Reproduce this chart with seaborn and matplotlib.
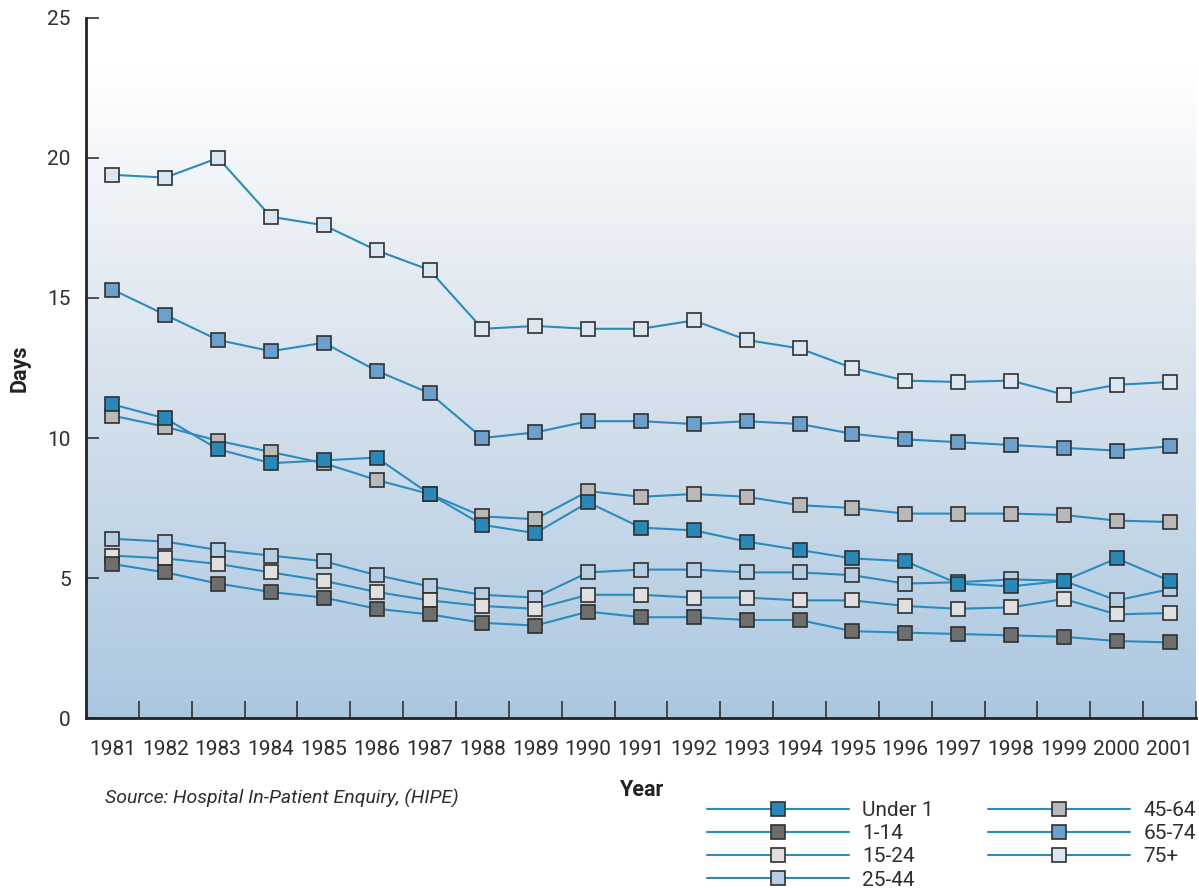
import numpy as np
import pandas as pd
import matplotlib
matplotlib.use("Agg")
import matplotlib.pyplot as plt
from matplotlib.lines import Line2D
from matplotlib.colors import LinearSegmentedColormap
import seaborn as sns

years = [str(y) for y in range(1981, 2002)]
groups = ["Under 1", "1-14", "15-24", "25-44", "45-64", "65-74", "75+"]

under_1 = [11.2, 10.7, 9.6, 9.1, 9.2, 9.3, 8.0, 6.9, 6.6, 7.7, 6.8, 6.7, 6.3, 6.0, 5.7, 5.6, 4.8, 4.7, 4.9, 5.7, 4.9]
age_1_14 = [5.5, 5.2, 4.8, 4.5, 4.3, 3.9, 3.7, 3.4, 3.3, 3.8, 3.6, 3.6, 3.5, 3.5, 3.1, 3.05, 3.0, 2.95, 2.9, 2.75, 2.7]
age_15_24 = [5.8, 5.7, 5.5, 5.2, 4.9, 4.5, 4.2, 4.0, 3.9, 4.4, 4.4, 4.3, 4.3, 4.2, 4.2, 4.0, 3.9, 3.95, 4.25, 3.7, 3.75]
age_25_44 = [6.4, 6.3, 6.0, 5.8, 5.6, 5.1, 4.7, 4.4, 4.3, 5.2, 5.3, 5.3, 5.2, 5.2, 5.1, 4.8, 4.85, 4.95, 4.9, 4.2, 4.6]
age_45_64 = [10.8, 10.4, 9.9, 9.5, 9.1, 8.5, 8.0, 7.2, 7.1, 8.1, 7.9, 8.0, 7.9, 7.6, 7.5, 7.3, 7.3, 7.3, 7.25, 7.05, 7.0]
age_65_74 = [15.3, 14.4, 13.5, 13.1, 13.4, 12.4, 11.6, 10.0, 10.2, 10.6, 10.6, 10.5, 10.6, 10.5, 10.15, 9.95, 9.85, 9.75, 9.65, 9.55, 9.7]
age_75p = [19.4, 19.3, 20.0, 17.9, 17.6, 16.7, 16.0, 13.9, 14.0, 13.9, 13.9, 14.2, 13.5, 13.2, 12.5, 12.05, 12.0, 12.05, 11.55, 11.9, 12.0]

series = [under_1, age_1_14, age_15_24, age_25_44, age_45_64, age_65_74, age_75p]
face_colors = ["#2a88b8", "#6e6e6e", "#e0e0e0", "#b7cde4", "#b9b9b9", "#6aa0cb", "#dbe6f1"]
line_color = "#2b8bbd"
edge_color = "#303030"

sns.set_theme(style="white")
plt.rcParams["font.family"] = ["Roboto", "DejaVu Sans"]
text_color = "#2e2e2e"

fig = plt.figure(figsize=(11.99, 8.88), dpi=100)
ax = fig.add_axes([86 / 1199, (888 - 718) / 888, (1196 - 86) / 1199, 700 / 888])

# gradient background (white at top to light blue at bottom)
grad = np.linspace(0, 1, 256).reshape(-1, 1)
cmap = LinearSegmentedColormap.from_list(
    "bg", [(0.0, "#ffffff"), (0.07, "#ffffff"), (0.4, "#e2e9f1"), (0.7, "#c7d8e8"), (1.0, "#abc7e0")])
ax.imshow(grad, aspect="auto", cmap=cmap, extent=[-0.5, 20.5, 0, 25], origin="upper", zorder=0)

x = np.arange(len(years))
# draw in reverse so "Under 1" ends up on top, as in the reference
for g, vals, fc in reversed(list(zip(groups, series, face_colors))):
    df = pd.DataFrame({"x": x, "Days": vals})
    sns.lineplot(data=df, x="x", y="Days", ax=ax, color=line_color, linewidth=1.5,
                 marker="s", markersize=9.5, markerfacecolor=fc, markeredgecolor=edge_color,
                 markeredgewidth=1.2, zorder=3)

ax.set_xlim(-0.5, 20.5)
ax.set_ylim(0, 25)
ax.set_yticks([0, 5, 10, 15, 20, 25])
ax.set_xticks(x)
ax.set_xticklabels(years)
ax.set_xticks(np.arange(0.5, 21, 1), minor=True)
ax.tick_params(axis="x", which="major", length=0, pad=16, labelsize=15, labelcolor=text_color)
ax.tick_params(axis="x", which="minor", direction="in", length=12, width=1.2, color="#333333", bottom=True)
ax.tick_params(axis="y", which="major", direction="in", length=9.5, width=1.2, color="#333333",
               left=True, pad=11, labelsize=15, labelcolor=text_color)

for s in ["top", "right"]:
    ax.spines[s].set_visible(False)
for s in ["left", "bottom"]:
    ax.spines[s].set_color("#222222")
    ax.spines[s].set_linewidth(2)

ax.set_xlabel("Year", fontsize=15.5, fontweight="bold", color="#222222", labelpad=14)
ax.set_ylabel("Days", fontsize=15.5, fontweight="bold", color="#222222", labelpad=12)
ax.grid(False)

fig.text(105 / 1199, 1 - 798 / 888, "Source: Hospital In-Patient Enquiry, (HIPE)", fontsize=14,
         style="italic", color=text_color, va="center", ha="left")

handles = [Line2D([0], [0], color=line_color, linewidth=1.5, marker="s", markersize=9.5,
                  markerfacecolor=fc, markeredgecolor=edge_color, markeredgewidth=1.2)
           for fc in face_colors]
leg = fig.legend(handles, groups, loc="upper left", bbox_to_anchor=(707 / 1199, 1 - 801 / 888),
                 ncol=2, frameon=False, fontsize=15, handlelength=6.8, handletextpad=0.65,
                 columnspacing=2.6, labelspacing=0.2, borderpad=0, borderaxespad=0)
for t in leg.get_texts():
    t.set_color(text_color)

fig.savefig("out.png", dpi=100)
